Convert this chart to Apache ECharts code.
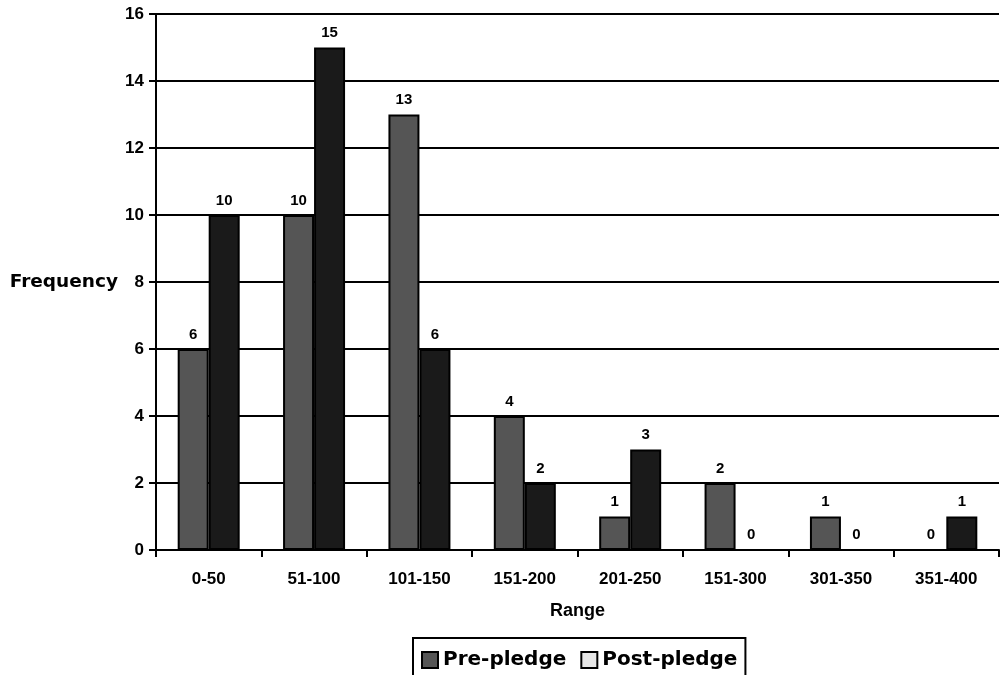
<!DOCTYPE html>
<html><head><meta charset="utf-8">
<script src="https://cdn.jsdelivr.net/npm/echarts@6/dist/echarts.min.js"></script>
<style>html,body{margin:0;padding:0;background:#fff}#c{width:1000px;height:675px}</style>
</head><body><div id="c"></div>
<script>
const categories = ['0-50','51-100','101-150','151-200','201-250','151-300','301-350','351-400'];
const prePledge = [6,10,13,4,1,2,1,0];
const postPledge = [10,15,6,2,3,0,0,1];
const yTicks = {min:0, max:16, interval:2};

const chart = echarts.init(document.getElementById('c'));
const F = 'Arial, "Liberation Sans", sans-serif';
const FW = '"DejaVu Sans", Arial, sans-serif';
const lbl = {show:true, position:'top', distance:7, color:'#000', fontFamily:F, fontWeight:'bold', fontSize:15};
chart.setOption({
  animation:false,
  backgroundColor:'#fff',
  grid:{left:156, right:1, top:14, bottom:125, containLabel:false},
  legend:{
    left:413, top:638,
    orient:'horizontal',
    itemWidth:16, itemHeight:16, itemGap:14,
    borderColor:'#000', borderWidth:2, borderRadius:0,
    padding:[12,8,12,8],
    textStyle:{fontFamily:FW, fontWeight:'bold', fontSize:20, color:'#000'},
    data:[
      {name:'Pre-pledge', icon:'rect', itemStyle:{color:'#555555', borderColor:'#000', borderWidth:2}},
      {name:'Post-pledge', icon:'rect', itemStyle:{color:'#e6e6e6', borderColor:'#000', borderWidth:2}}
    ]
  },
  xAxis:{
    type:'category', data:categories,
    name:'Range', nameLocation:'middle', nameGap:52,
    nameTextStyle:{fontFamily:F, fontWeight:'bold', fontSize:18, color:'#000'},
    axisLine:{lineStyle:{color:'#000', width:2}},
    axisTick:{show:true, length:7, lineStyle:{color:'#000', width:2}},
    axisLabel:{fontFamily:F, fontWeight:'bold', fontSize:17, color:'#000', margin:21}
  },
  yAxis:{
    type:'value', min:yTicks.min, max:yTicks.max, interval:yTicks.interval,
    name:'Frequency', nameLocation:'middle', nameRotate:0, nameGap:38,
    nameTextStyle:{fontFamily:FW, fontWeight:'bold', fontSize:18.5, color:'#000', padding:[4,0,0,0]},
    axisLine:{show:true, lineStyle:{color:'#000', width:2}},
    axisTick:{show:true, length:7, lineStyle:{color:'#000', width:2}},
    axisLabel:{fontFamily:F, fontWeight:'bold', fontSize:17, color:'#000', margin:12},
    splitLine:{show:true, lineStyle:{color:'#000', width:2}}
  },
  series:[
    {name:'Pre-pledge', type:'bar', data:prePledge, barWidth:31, barGap:'0%',
     itemStyle:{color:'#555555', borderColor:'#000', borderWidth:2}, label:lbl},
    {name:'Post-pledge', type:'bar', data:postPledge, barWidth:31, barGap:'0%',
     itemStyle:{color:'#1a1a1a', borderColor:'#000', borderWidth:2}, label:lbl}
  ]
});
</script></body></html>
